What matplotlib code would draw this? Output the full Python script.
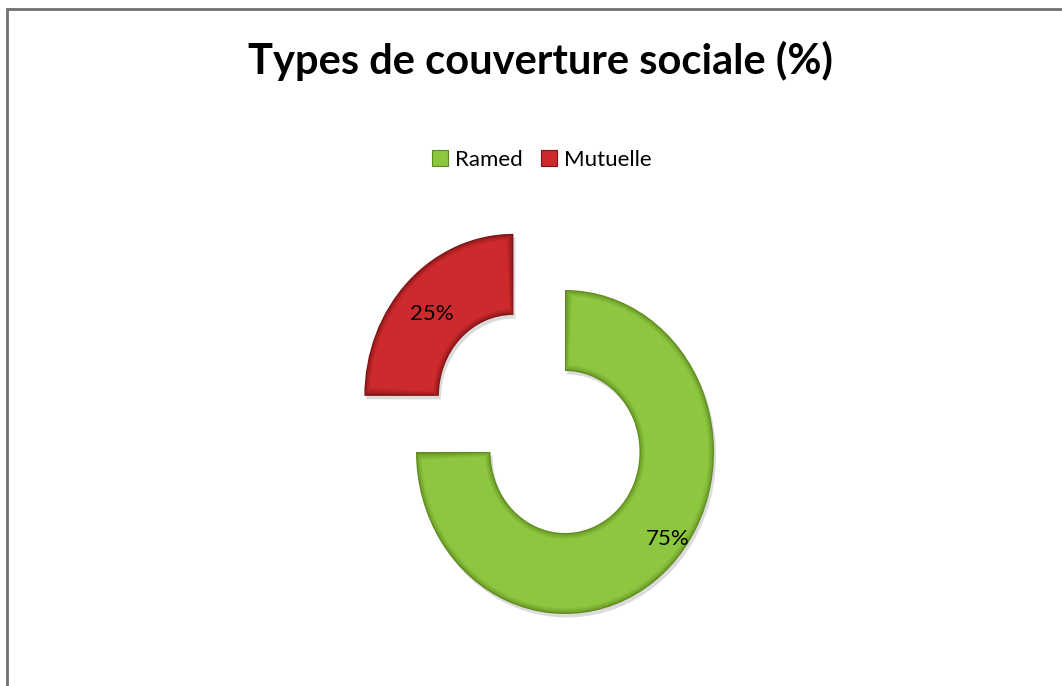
import numpy as np
import matplotlib
matplotlib.use("Agg")
import matplotlib.pyplot as plt
from matplotlib.patches import Rectangle, Wedge
from matplotlib.colors import to_rgb
import matplotlib.patheffects as pe

# Social coverage shares
categories = ["Ramed", "Mutuelle"]
shares = [75, 25]
colors = ["#8dc63f", "#cc2a2c"]
edge_colors = ["#5e8a1e", "#7e1214"]

W, H = 1062, 686
fig = plt.figure(figsize=(W / 100, H / 100), dpi=100)
fig.patch.set_facecolor("white")

# Frame around the chart area
fig.add_artist(Rectangle((7 / W, -0.01), 1.1, (H - 9) / H + 0.01,
                         transform=fig.transFigure, fill=False,
                         edgecolor="#707070", linewidth=2))

# Donut axes: unit radius maps to 149 px horizontally, 162 px vertically
cx, cy, rx, ry = 565, 452, 149, 162
ax = fig.add_axes([0, 0, 1, 1])
ax.axis("off")

ring_width = 0.5
wedges, _ = ax.pie(shares, colors=edge_colors, startangle=90, counterclock=False,
                   explode=[0, 0.49], radius=1.0,
                   wedgeprops=dict(width=ring_width, linewidth=0),
                   normalize=True)
ax.set_aspect("auto")
ax.set_xlim(-cx / rx, (W - cx) / rx)
ax.set_ylim((cy - H) / ry, cy / ry)

# Soft drop shadow under each segment
for w in wedges:
    w.set_path_effects([pe.SimplePatchShadow(offset=(1.5, -2.5), shadow_rgbFace="#000000",
                                             alpha=0.14), pe.Normal()])

# Bevelled look: stacked inset copies fading from the edge tone to the face tone
steps = 5
for w, face, edge in zip(wedges, colors, edge_colors):
    c0, c1 = np.array(to_rgb(edge)), np.array(to_rgb(face))
    for k in range(1, steps + 1):
        d = k * 0.0075
        dang = np.degrees(d / 0.75)
        t = (k / steps) ** 0.6
        col = c0 * (1 - t) + c1 * t
        ax.add_patch(Wedge(w.center, w.r - d, w.theta1 + dang, w.theta2 - dang,
                           width=ring_width - 2 * d, facecolor=col, linewidth=0))

# Percentage labels
label_pos = [(0.69, -0.54), (-0.55 - 0.49 * 0.7071, 0.506 + 0.49 * 0.7071)]
for (x, y), v in zip(label_pos, shares):
    ax.text(x, y, f"{v}%", ha="center", va="center", fontsize=16,
            family="Lato", color="black", zorder=5)

fig.text(540 / W, 1 - 61 / H, "Types de couverture sociale (%)",
         ha="center", va="center", fontsize=30, fontweight="bold",
         family="Lato", color="black")

handles = [Rectangle((0, 0), 1, 1, facecolor=c, edgecolor=e, linewidth=0.8)
           for c, e in zip(colors, edge_colors)]
fig.legend(handles, categories, loc="center", bbox_to_anchor=(542 / W, 1 - 160 / H),
           ncol=2, frameon=False, handlelength=0.7, handleheight=0.7,
           handletextpad=0.35, columnspacing=0.8,
           prop={"family": "Lato", "size": 16})

fig.savefig("out.png", dpi=100)
